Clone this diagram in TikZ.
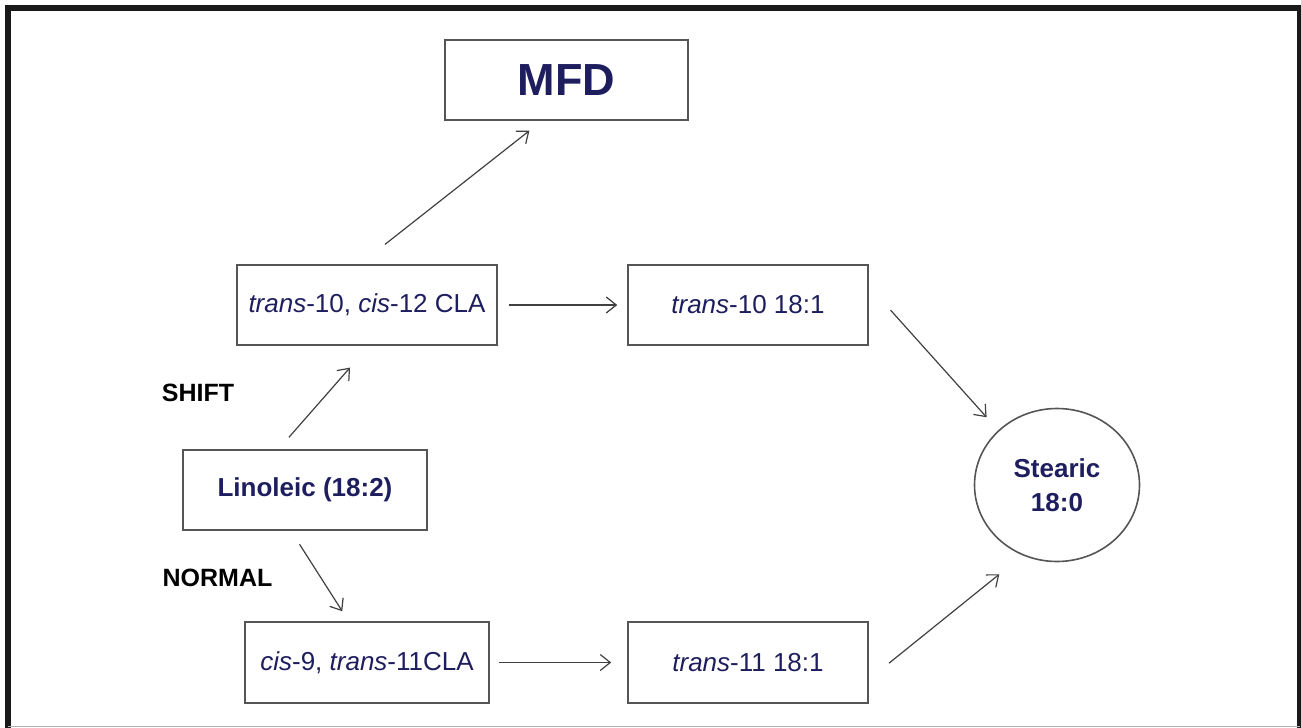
\documentclass[tikz,border=0pt]{standalone}
\usepackage{fontspec}
\setmainfont{Liberation Sans}
\usetikzlibrary{shapes.geometric,arrows.meta}

\definecolor{navy}{RGB}{30,30,95}
\definecolor{boxline}{RGB}{85,85,85}

\tikzset{
  fabox/.style={draw=boxline,line width=0.8pt,text=navy,minimum height=40pt,
    inner sep=0pt,font=\fontsize{13}{16}\selectfont},
  flow/.style={draw=black!75,line width=0.6pt,-{Straight Barb[length=5pt,width=8pt]}},
  route/.style={font=\bfseries\fontsize{12.5}{15}\selectfont}
}

\begin{document}
\begin{tikzpicture}[x=0.5pt,y=-0.5pt]
      \useasboundingbox (0,0) rectangle (1301,728);

      % frame
      \draw[line width=3pt,black!90] (7.5,740) -- (7.5,8) -- (1299.5,8) -- (1299.5,740);
      \draw[black!30,line width=0.5pt] (7.5,726.7) -- (1299.5,726.7);

      % upper row
      \node[fabox,minimum width=121.5pt,font=\bfseries\fontsize{22.5}{26}\selectfont]
            (mfd) at (566.5,80) {MFD};
      \node[fabox,minimum width=130pt] (cla10) at (367,305)
            {\textit{trans}-10, \textit{cis}-12 CLA};
      \node[fabox,minimum width=120pt] (t10) at (748,305)
            {\textit{trans}-10 18:1};

      % start
      \node[fabox,minimum width=122pt,font=\bfseries\fontsize{13}{16}\selectfont]
            (lin) at (305,490) {Linoleic (18:2)};

      % lower row
      \node[fabox,minimum width=122pt,minimum height=40.5pt] (cla9) at (367,662.5)
            {\textit{cis}-9, \textit{trans}-11CLA};
      \node[fabox,minimum width=120pt,minimum height=40.5pt] (t11) at (748,662.5)
            {\textit{trans}-11 18:1};

      % end
      \node[ellipse,draw=boxline,line width=0.8pt,text=navy,inner sep=0pt,
            minimum width=82.5pt,minimum height=76.5pt,align=center,
            font=\bfseries\fontsize{13}{17}\selectfont]
            (stearic) at (1057,485) {Stearic\\18:0};

      % route labels
      \node[route] (shift) at (198,393) {SHIFT};
      \node[route] (normal) at (217.5,578) {NORMAL};

      % arrows
      \draw[flow,shorten <=16pt,shorten >=8pt] (cla10.100) -- (mfd.239);
      \draw[flow,shorten <=7.9pt,shorten >=14.5pt] (lin.123) -- (cla10.273);
      \draw[flow,shorten <=8pt,shorten >=5.9pt] (lin.251) -- (cla9.114);
      \draw[flow,shorten <=5.5pt,shorten >=5pt] (cla10.east) -- (t10.west);
      \draw[flow,shorten <=4.5pt,shorten >=8pt] (cla9.east) -- (t11.west);
      \draw[flow,shorten <=16.3pt,shorten >=8.7pt] (t10.9) -- (stearic.137);
      \draw[flow,shorten <=13pt,shorten >=15pt] (t11.-8) -- (stearic.244);
\end{tikzpicture}
\end{document}
